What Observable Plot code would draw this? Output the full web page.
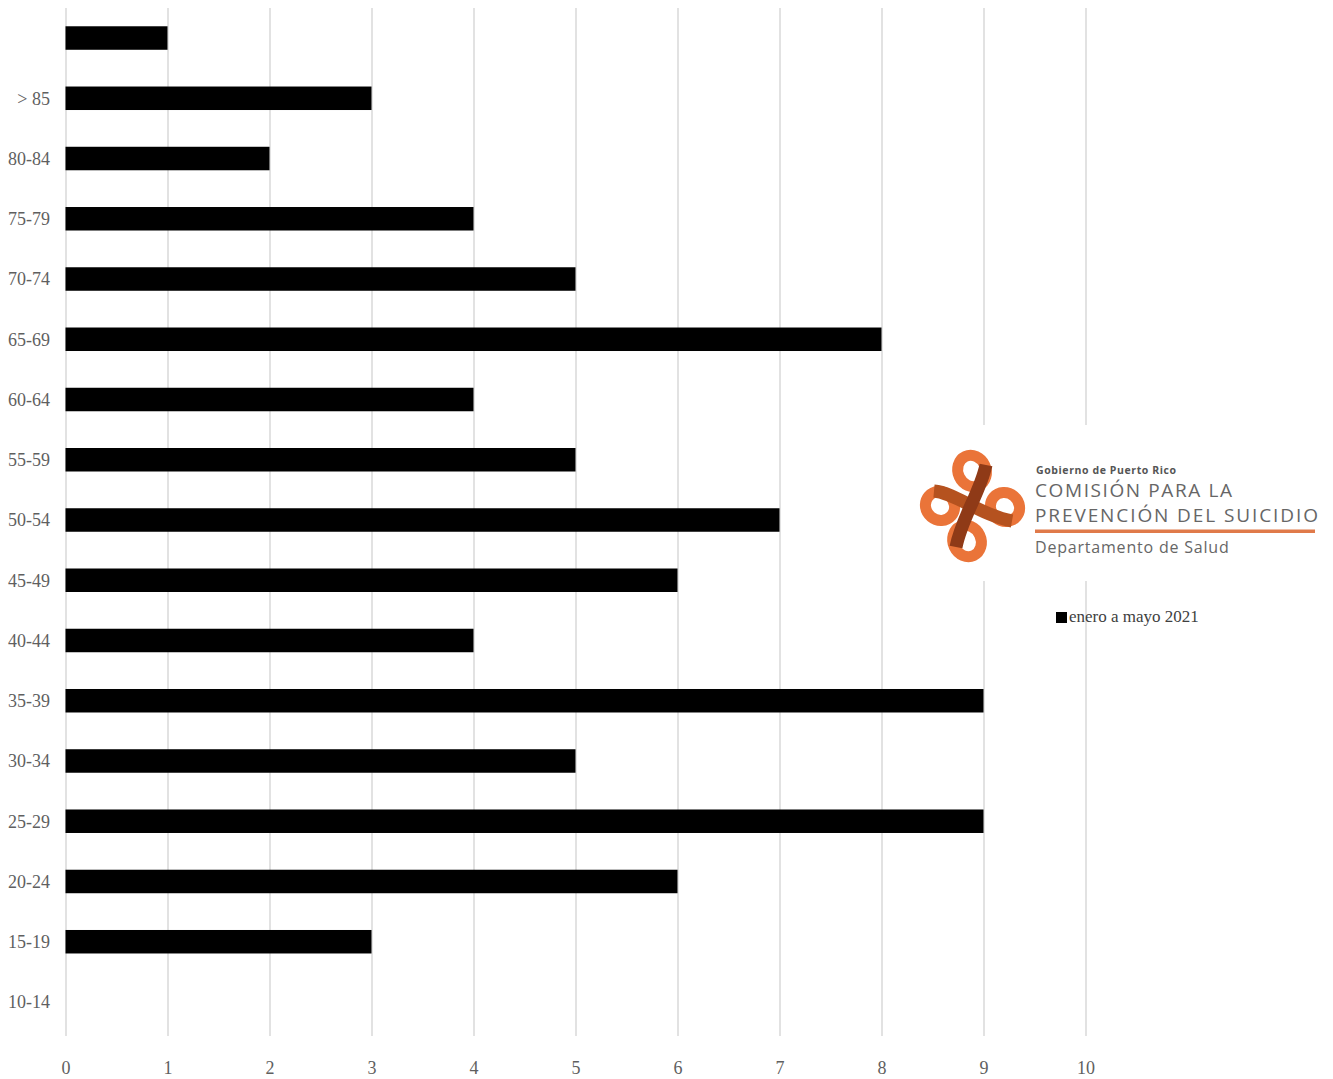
<!DOCTYPE html>
<html>
<head>
<meta charset="utf-8">
<script src="https://cdn.jsdelivr.net/npm/d3@7"></script>
<script src="https://cdn.jsdelivr.net/npm/@observablehq/plot@0.6"></script>
<style>
  html, body { margin: 0; padding: 0; background: white; }
  #wrap { position: relative; width: 1333px; height: 1079px; overflow: hidden; }
  #logo { position: absolute; left: 916px; top: 425px; width: 414px; height: 156px; background: white; }
  #legend { position: absolute; left: 1056px; top: 607px; font-family: "Liberation Serif", serif; font-size: 17px; color: #404040; white-space: nowrap; }
  #legend .sw { display: inline-block; width: 11px; height: 11px; background: black; vertical-align: -1px; margin-right: 2px; }
</style>
</head>
<body>
<div id="wrap">
  <div id="chart"></div>
  <div id="logo">
    <svg width="414" height="156" viewBox="0 0 414 156">
      <g>
        <!-- four orange loops -->
        <g fill="none" stroke="#ea7439" stroke-width="11">
          <ellipse cx="56" cy="46" rx="14" ry="16" transform="rotate(-25 56 46)"/>
          <ellipse cx="89" cy="82" rx="15" ry="14" transform="rotate(40 89 82)"/>
          <ellipse cx="51" cy="116" rx="14" ry="16" transform="rotate(-25 51 116)"/>
          <ellipse cx="24" cy="81" rx="15" ry="14" transform="rotate(40 24 81)"/>
        </g>
        <!-- brown ribbons -->
        <g fill="none" stroke-linecap="butt" stroke-width="13">
          <path d="M18,66 C40,68 64,90 96,96" stroke="#b5521f"/>
          <path d="M70,40 C64,68 46,92 40,122" stroke="#8f3a17"/>
        </g>
      </g>
      <g font-family="'Open Sans', 'DejaVu Sans', sans-serif" fill="#666">
        <text x="120" y="49" font-size="10.5" font-weight="bold" fill="#555" letter-spacing="0.6">Gobierno de Puerto Rico</text>
        <text x="119" y="72" font-size="19" letter-spacing="1.6">COMISIÓN PARA LA</text>
        <text x="119" y="97" font-size="19" letter-spacing="1.9">PREVENCIÓN DEL SUICIDIO</text>
        <text x="119" y="128" font-size="16" letter-spacing="0.8">Departamento de Salud</text>
      </g>
      <rect x="119" y="104.5" width="280" height="3.5" fill="#e07a4a"/>
    </svg>
  </div>
  <div id="legend"><span class="sw"></span>enero a mayo 2021</div>
</div>
<script>
const categorias = [" ", "> 85", "80-84", "75-79", "70-74", "65-69", "60-64", "55-59", "50-54", "45-49", "40-44", "35-39", "30-34", "25-29", "20-24", "15-19", "10-14"];
const valores = [1, 3, 2, 4, 5, 8, 4, 5, 7, 6, 4, 9, 5, 9, 6, 3, 0];
const ticksX = [0, 1, 2, 3, 4, 5, 6, 7, 8, 9, 10];
const serie = "enero a mayo 2021";

const datos = categorias.map((c, i) => ({grupo: c, valor: valores[i], serie}));

const chart = Plot.plot({
  width: 1333,
  height: 1079,
  marginLeft: 65.5,
  marginRight: 247.5,
  marginTop: 8,
  marginBottom: 43,
  style: {fontFamily: "'Liberation Serif', serif", fontSize: "18px", color: "#5f5f5f", background: "white"},
  x: {domain: [0, 10], ticks: ticksX, tickSize: 0, tickPadding: 25, label: null},
  y: {domain: categorias, range: [7.9, 1032.1], round: false, paddingInner: 0.61, paddingOuter: 0.305, tickSize: 0, tickPadding: 16, label: null},
  marks: [
    Plot.gridX(ticksX, {stroke: "#d9d9d9", strokeOpacity: 1, strokeWidth: 1.5}),
    Plot.barX(datos, {x: "valor", y: "grupo", fill: "black"})
  ]
});
document.getElementById("chart").appendChild(chart);
</script>
</body>
</html>
